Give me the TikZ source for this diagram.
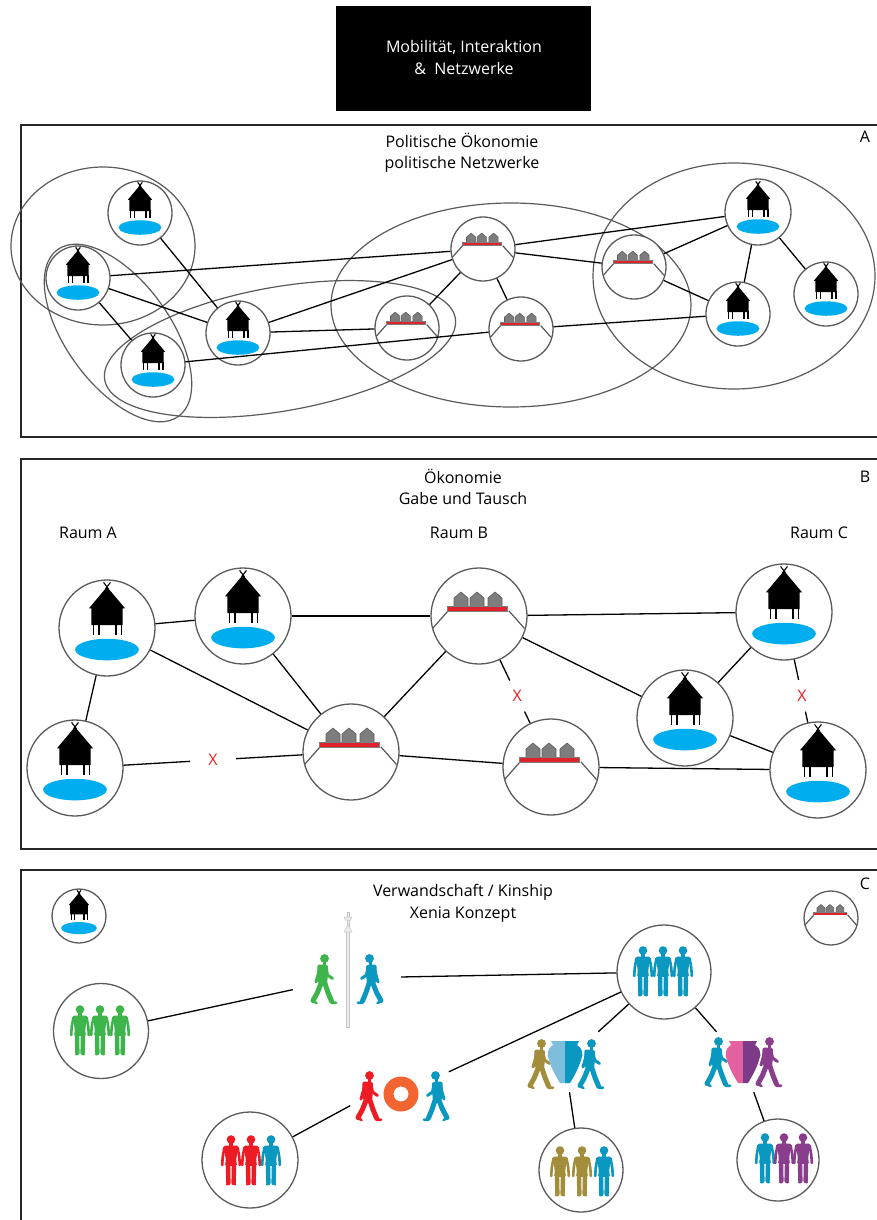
\documentclass[tikz,border=0pt]{standalone}
\usepackage{fontspec}
\setmainfont{Open Sans}
\usetikzlibrary{calc}

\definecolor{water}{HTML}{00AEEF}
\definecolor{barred}{HTML}{E0232B}
\definecolor{roofgray}{HTML}{7D7D7D}
\definecolor{edgegray}{HTML}{5C5C5C}
\definecolor{ringgray}{HTML}{5A5A5A}
\definecolor{pgreen}{HTML}{3DB54A}
\definecolor{pblue}{HTML}{0A97C0}
\definecolor{pred}{HTML}{ED1C24}
\definecolor{porange}{HTML}{F26531}
\definecolor{polive}{HTML}{A28D3B}
\definecolor{ppurple}{HTML}{8A3C8D}
\definecolor{ppink}{HTML}{E4619F}
\definecolor{plight}{HTML}{7EBEDC}
\definecolor{vpurple}{HTML}{7D3A86}
\definecolor{polegray}{HTML}{EDEDED}
\definecolor{poleedge}{HTML}{C4C4C4}

% stilt house above a pond, drawn around a centre, unit radius 49
\newcommand\hutIcon[2]{%
  \begin{scope}[shift={(#1)},scale=#2]
    \fill[water] (0,22) ellipse (32.5 and 11);
    \fill (0,-42) -- (18.5,-20) -- (16,-20) -- (16,-3) -- (-16,-3) -- (-16,-20) -- (-18.5,-20) -- cycle;
    \draw[line width=1.1] (-3.5,-46.5) -- (1.5,-40) (3.5,-46.5) -- (-1.5,-40);
    \draw[line width=1.4] (-14,-4) -- (-14,7) (-8,-4) -- (-8,7) (9,-4) -- (9,7) (15,-4) -- (15,7);
  \end{scope}}

% three roofed houses on a red platform with a slope, unit radius 48
\newcommand\villIcon[2]{%
  \begin{scope}[shift={(#1)},scale=#2]
    \draw[ringgray, line width=1.2] (-31,-5) -- (-46.5,12.5) (30,-5) -- (45.5,12.5);
    \foreach \hx in {-18,-2,16}{
      \filldraw[fill=roofgray, draw=edgegray, line width=0.6]
        (\hx-7,-9.5) -- (\hx-7,-18) -- (\hx,-24) -- (\hx+7,-18) -- (\hx+7,-9.5) -- cycle;}
    \fill[roofgray] (-32,-10.5) rectangle (29,-4.5);
    \fill[barred] (-31,-9) rectangle (28,-5.5);
  \end{scope}}

% standing person seen from the front, feet at the given point
\newcommand\standFig[2]{%
  \begin{scope}[shift={(#1)}]
    \fill[#2] (0,-45.5) circle (4.3);
    \fill[#2] (-1.6,-42) rectangle (1.6,-38);
    \fill[#2,rounded corners=1.5] (-7.2,-39.5) -- (7.2,-39.5) -- (6,-31) -- (5.2,-25) -- (6,-19) -- (-6,-19) -- (-5.2,-25) -- (-6,-31) -- cycle;
    \draw[#2,line width=2.6,line cap=round,line join=round] (-6.6,-37.5) -- (-8.3,-28) -- (-8.8,-20) (6.6,-37.5) -- (8.3,-28) -- (8.8,-20);
    \draw[#2,line width=4.4,line cap=round,line join=round] (-3,-20) -- (-2.8,-10) -- (-2.6,-2) (3,-20) -- (2.8,-10) -- (2.6,-2);
    \draw[#2,line width=2.2,line cap=round] (-2.6,-1) -- (-4,-0.6) (2.6,-1) -- (4,-0.6);
  \end{scope}}

% walking person, feet at the given point, #3 = 1 (right) or -1 (left)
\newcommand\walkFig[3]{%
  \begin{scope}[shift={(#1)},xscale=#3]
    \fill[#2] (1.5,-45.5) circle (4.4);
    \fill[#2] (-0.5,-42) rectangle (2.5,-38);
    \fill[#2,rounded corners=2] (-5.5,-39.5) -- (5,-39) -- (4.8,-30) -- (4.2,-20) -- (-4.8,-20) -- (-5.6,-30) -- cycle;
    \draw[#2,line width=3,line cap=round,line join=round] (-3,-37) -- (-5,-29) -- (-7,-22) (3,-37) -- (4.5,-29) -- (9.5,-25.5);
    \draw[#2,line width=5,line cap=round,line join=round] (-1.8,-21) -- (-5.8,-11) -- (-10,-3.5) (1.8,-21) -- (5.2,-11) -- (8.5,-3);
    \draw[#2,line width=2.6,line cap=round] (-10,-3) -- (-6.5,-0.9) (8.5,-1.3) -- (13,-1.3);
  \end{scope}}

% two-coloured storage jar
\newcommand\vesselIcon[3]{%
  \begin{scope}[shift={(#1)}]
    \fill[#2] (0,-21) -- (-14,-21) -- (-12,-17) .. controls (-18,-13) and (-18.5,-8) .. (-16,-2) .. controls (-13,8) and (-8,16) .. (-5,21) -- (0,21) -- cycle;
    \fill[#3] (0,-21) -- (14,-21) -- (12,-17) .. controls (18,-13) and (18.5,-8) .. (16,-2) .. controls (13,8) and (8,16) .. (5,21) -- (0,21) -- cycle;
  \end{scope}}

\tikzset{
  ring/.style={circle, draw=ringgray, line width=1.3, inner sep=0pt, fill=white},
  link/.style={line width=1.3, black},
  zone/.style={draw=ringgray, line width=1.2},
  panel/.style={draw=black!85, line width=1.4},
  lbl/.style={font=\fontsize{16}{21.5}\selectfont, align=center, inner sep=0pt},
  cross/.style={circle, inner sep=0pt, text=pred, font=\fontsize{16}{18}\selectfont},
  grp/.style={inner sep=0pt, draw=none}
}

\begin{document}
\begin{tikzpicture}[x=1pt,y=-1pt]
\useasboundingbox (0,0) rectangle (877,1220);
\fill[white] (0,0) rectangle (877,1220);

% ---------- heading ----------
\fill[black] (336,6) rectangle (591,111);
\node[lbl, text=white] (head) at (464,57.5) {Mobilität, Interaktion\\\&\ \ Netzwerke};

% ---------- panel A ----------
\draw[panel] (21,125) rectangle (890,437);
\node[lbl] (tA) at (462,153) {Politische Ökonomie\\politische Netzwerke};
\node[lbl] (kA) at (865,137) {A};

\draw[zone] (103,246) ellipse (92 and 79);
\draw[zone, rotate around={-54:(118,333)}] (118,333) ellipse (103 and 52);
\draw[zone, rotate around={10:(280,349)}] (280,349) ellipse (178 and 62);
\draw[zone] (511,305) ellipse (180 and 102);
\draw[zone] (734,276) ellipse (141 and 113);

\node[ring, minimum size=64] (a1) at (140,213) {};
\node[ring, minimum size=64] (a2) at (78,278) {};
\node[ring, minimum size=64] (a3) at (153,365) {};
\node[ring, minimum size=64] (a4) at (238,333) {};
\node[ring, minimum size=64] (s1) at (483,249) {};
\node[ring, minimum size=64] (s2) at (407,328) {};
\node[ring, minimum size=64] (s3) at (521,329) {};
\node[ring, minimum size=64] (s4) at (634,267) {};
\node[ring, minimum size=66] (a5) at (758,212) {};
\node[ring, minimum size=64] (a6) at (738,314) {};
\node[ring, minimum size=64] (a7) at (826,294) {};

\foreach \n in {a1,a2,a3,a4,a5,a6,a7}{\hutIcon{\n.center}{0.66}}
\foreach \n in {s1,s2,s3,s4}{\villIcon{\n.center}{0.66}}

\draw[link] (a2) -- (s1);
\draw[link] (a2) -- (a4);
\draw[link] (a2) -- (a3);
\draw[link] (a1) -- (a4);
\draw[link] (a3) -- (s3);
\draw[link] (a4) -- (s2);
\draw[link] (a4) -- (s1);
\draw[link] (s1) -- (s2);
\draw[link] (s1) -- (s3);
\draw[link] (s1) -- (a5);
\draw[link] (s1) -- (s4);
\draw[link] (s3) -- (a6);
\draw[link] (s4) -- (a5);
\draw[link] (s4) -- (a6);
\draw[link] (a5) -- (a6);
\draw[link] (a5) -- (a7);

% ---------- panel B ----------
\draw[panel] (21,459) rectangle (890,849);
\node[lbl] (tB) at (463,487) {Ökonomie\\Gabe und Tausch};
\node[lbl] (kB) at (865,477) {B};
\node[lbl] (rA) at (88,533) {Raum A};
\node[lbl] (rB) at (459,533) {Raum B};
\node[lbl] (rC) at (819,533) {Raum C};

\node[ring, minimum size=96] (b1) at (107,628) {};
\node[ring, minimum size=96] (b2) at (243,616) {};
\node[ring, minimum size=96] (v1) at (479,616) {};
\node[ring, minimum size=96] (b3) at (784,612) {};
\node[ring, minimum size=96] (b4) at (75,768) {};
\node[ring, minimum size=96] (v2) at (351,752) {};
\node[ring, minimum size=96] (v3) at (551,767) {};
\node[ring, minimum size=96] (b5) at (685,718) {};
\node[ring, minimum size=96] (b6) at (818,770) {};

\foreach \n in {b1,b2,b3,b4,b5,b6}{\hutIcon{\n.center}{0.98}}
\foreach \n in {v1,v2,v3}{\villIcon{\n.center}{1}}

\draw[link] (b1) -- (b2);
\draw[link] (b2) -- (v1);
\draw[link] (v1) -- (b3);
\draw[link] (b1) -- (b4);
\draw[link] (b1) -- (v2);
\draw[link] (b2) -- (v2);
\draw[link] (v1) -- (v2);
\draw[link] (v1) -- (b5);
\draw[link] (b3) -- (b5);
\draw[link] (v2) -- (v3);
\draw[link] (v3) -- (b6);
\draw[link] (b5) -- (b6);

\node[cross, minimum size=46] (x1) at ($(b4)!0.5!(v2)$) {X};
\draw[link] (b4) -- (x1);
\draw[link] (x1) -- (v2);
\node[cross, minimum size=34] (x2) at ($(v1)!0.53!(v3)$) {X};
\draw[link] (v1) -- (x2);
\draw[link] (x2) -- (v3);
\node[cross, minimum size=32] (x3) at ($(b3)!0.53!(b6)$) {X};
\draw[link] (b3) -- (x3);
\draw[link] (x3) -- (b6);

% ---------- panel C ----------
\draw[panel] (21,870) rectangle (890,1240);
\node[lbl] (tC) at (463,903.5) {Verwandschaft / Kinship\\Xenia Konzept};
\node[lbl] (kC) at (865,884) {C};

\node[ring, minimum size=54] (ch) at (79,916) {};
\hutIcon{ch.center}{0.55}
\node[ring, minimum size=54] (cv) at (831,918) {};
\villIcon{cv.center}{0.56}

\node[ring, minimum size=95] (gG) at (101,1031) {};
\node[ring, minimum size=94] (gB) at (664,972) {};
\node[ring, minimum size=96] (gR) at (250,1160) {};
\node[ring, minimum size=84] (gO) at (581,1170) {};
\node[ring, minimum size=82] (gP) at (778,1160) {};

\node[grp, minimum width=108, minimum height=60] (xenia) at (347,978) {};
\node[grp, minimum width=100, minimum height=44] (gift) at (401,1094) {};
\node[grp, circle, minimum size=40] (redw) at (368,1096) {};
\node[grp, minimum width=90, minimum height=60] (vas1) at (565,1062) {};
\node[grp, minimum width=90, minimum height=60] (vas2) at (743,1062) {};

\draw[link] (gG) -- (xenia);
\draw[link] (xenia) -- (gB);
\draw[link] (gB) -- (gift);
\draw[link] (gR) -- (redw);
\draw[link] (gB) -- (vas1);
\draw[link] (vas1) -- (gO);
\draw[link] (gB) -- (vas2);
\draw[link] (vas2) -- (gP);

% kin groups
\standFig{80,1055}{pgreen}\standFig{100,1055}{pgreen}\standFig{120,1055}{pgreen}
\standFig{643,996}{pblue}\standFig{663,996}{pblue}\standFig{683,996}{pblue}
\standFig{231,1185}{pred}\standFig{251,1185}{pred}\standFig{271,1185}{pblue}
\standFig{560,1196}{polive}\standFig{582,1196}{polive}\standFig{604,1196}{pblue}
\standFig{765,1183}{pblue}\standFig{784,1183}{ppurple}\standFig{803,1183}{ppurple}

% guest meeting with the staff between them
\filldraw[fill=polegray, draw=poleedge, line width=0.5] (346.5,930) rectangle (349.5,1027);
\filldraw[fill=polegray, draw=poleedge, line width=0.5] (347.2,912) rectangle (348.8,930);
\filldraw[fill=polegray, draw=poleedge, line width=0.5] (344,917) -- (352,917) -- (350.5,920) -- (345.5,920) -- cycle;
\filldraw[fill=polegray, draw=poleedge, line width=0.5] (344,932) -- (348,925) -- (352,932) -- cycle;
\walkFig{323,1004}{pgreen}{1}
\walkFig{371,1004}{pblue}{-1}

% gift of a ring
\walkFig{368,1121}{pred}{1}
\walkFig{437,1121}{pblue}{-1}
\fill[porange, even odd rule] (401,1094) circle (17.5) (401,1094) circle (7.5);

% exchange of jars
\walkFig{540,1089}{polive}{1}
\walkFig{590,1089}{pblue}{1}
\vesselIcon{565,1062}{plight}{pblue}
\walkFig{717,1087}{pblue}{1}
\walkFig{768,1087}{ppurple}{1}
\vesselIcon{743,1062}{ppink}{vpurple}

\end{tikzpicture}
\end{document}
